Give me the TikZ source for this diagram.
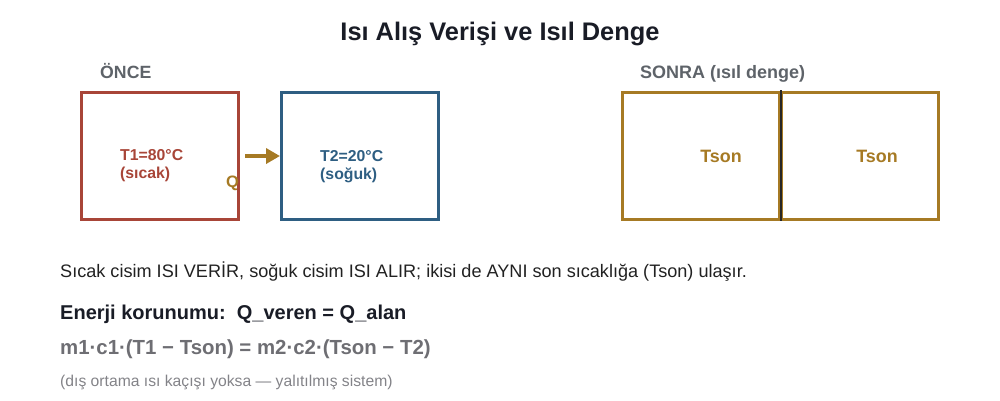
\documentclass[tikz,border=0pt]{standalone}
\usepackage{fontspec}
\setmainfont{Liberation Sans}
\usetikzlibrary{arrows.meta}
\definecolor{hot}{rgb}{0.66, 0.27, 0.22}
\definecolor{cold}{rgb}{0.18, 0.37, 0.51}
\definecolor{gold}{rgb}{0.65, 0.48, 0.14}
\definecolor{label}{rgb}{0.37, 0.39, 0.41}
\definecolor{ink}{rgb}{0.13, 0.13, 0.13}
\definecolor{dark}{rgb}{0.10, 0.11, 0.15}
\definecolor{soft}{rgb}{0.43, 0.43, 0.45}

\begin{document}
\begin{tikzpicture}[x=1pt, y=-1pt,
  body/.style={draw, line width=3pt, minimum width=157pt, minimum height=127pt, inner sep=0pt},
  txt/.style={anchor=base west, inner sep=0pt, font=\bfseries\fontsize{15.8}{17.5}\selectfont, align=left}]
\useasboundingbox (0, 0) rectangle (1000, 400);
\node[font=\bfseries\fontsize{25.4}{28}\selectfont, text=dark, anchor=base] (title) at (500, 40) {Isı Alış Verişi ve Isıl Denge};

% vorher
\node[txt, text=label, font=\bfseries\fontsize{17.7}{20}\selectfont] (before) at (100, 78) {ÖNCE};
\node[body, draw=hot] (hotbox) at (160, 155.5) {};
\node[body, draw=cold] (coldbox) at (360, 155.5) {};
\node[txt, text=hot] (hotlabel) at (120, 178) {T1=80°C\\(sıcak)};
\node[txt, text=cold] (coldlabel) at (320, 179) {T2=20°C\\(soğuk)};
\coordinate (qstart) at (245, 156);
\draw[gold, line width=4pt, -{Triangle[length=14pt, width=15pt]}] (qstart) -- (coldbox.west |- qstart);
\node[txt, text=gold, font=\bfseries\fontsize{16.5}{18}\selectfont] (q) at (226, 187) {Q};

% nachher
\node[txt, text=label, font=\bfseries\fontsize{18}{20}\selectfont] (after) at (640, 78) {SONRA (ısıl denge)};
\node[body, draw=gold] (leftbox) at (701, 155.5) {};
\node[body, draw=gold] (rightbox) at (860, 155.5) {};
\draw[black!85, line width=2pt] (780.5, 90) -- (780.5, 221);
\node[txt, text=gold, font=\bfseries\fontsize{17.9}{20}\selectfont, anchor=base] (tleft) at (721, 162) {Tson};
\node[txt, text=gold, font=\bfseries\fontsize{17.9}{20}\selectfont, anchor=base] (tright) at (877, 162) {Tson};

% Text
\node[txt, text=ink, font=\fontsize{18.1}{20}\selectfont] (note) at (60, 277) {Sıcak cisim ISI VERİR, soğuk cisim ISI ALIR; ikisi de AYNI son sıcaklığa (Tson) ulaşır.};
\node[txt, text=dark, font=\bfseries\fontsize{20}{22}\selectfont] (energy) at (60, 319) {Enerji korunumu:\ \ Q\_veren = Q\_alan};
\node[txt, text=soft, font=\bfseries\fontsize{20.4}{22}\selectfont] (formula) at (60, 354) {m1·c1·(T1 − Tson) = m2·c2·(Tson − T2)};
\node[txt, text=soft!85, font=\fontsize{15.7}{17}\selectfont] (hint) at (60, 386) {(dış ortama ısı kaçışı yoksa — yalıtılmış sistem)};
\end{tikzpicture}
\end{document}
